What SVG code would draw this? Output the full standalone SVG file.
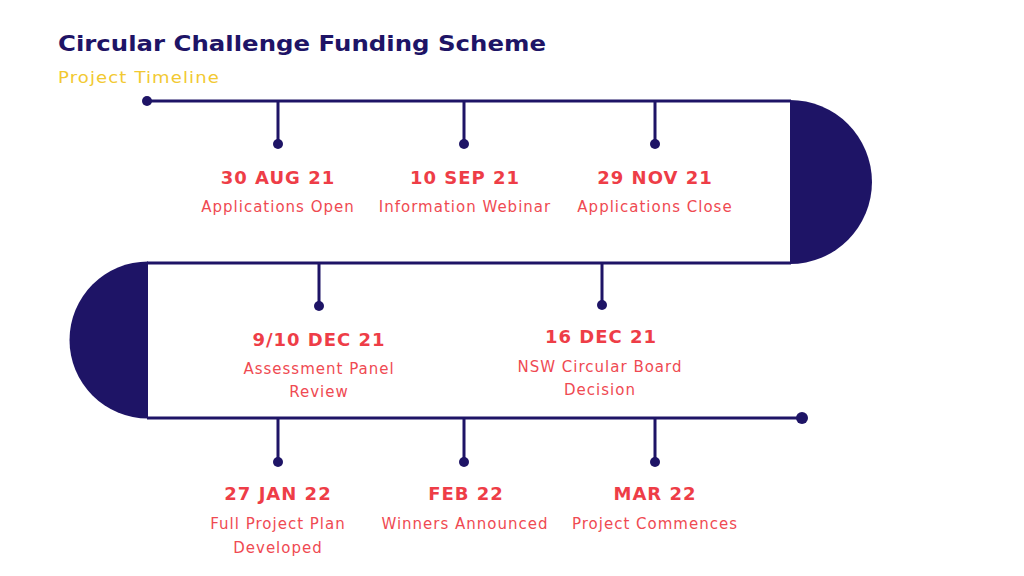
<svg xmlns="http://www.w3.org/2000/svg" width="1024" height="576" viewBox="0 0 1024 576">
<style>
.line{stroke:#1E1466;stroke-width:3;fill:none}
.dot{fill:#1E1466}
.cap{fill:#1E1466}
.date{font-family:"DejaVu Sans","Liberation Sans",sans-serif;font-weight:700;font-size:18px;fill:#EE3D47;text-anchor:middle;letter-spacing:1px}
.lab{font-family:"DejaVu Sans","Liberation Sans",sans-serif;font-weight:400;font-size:15px;fill:#EF4A52;text-anchor:middle;letter-spacing:1px}
.title{font-family:"DejaVu Sans","Liberation Sans",sans-serif;font-weight:700;font-size:22px;fill:#1E1466}
.sub{font-family:"DejaVu Sans","Liberation Sans",sans-serif;font-weight:400;font-size:16px;fill:#F2C931;letter-spacing:1px}
</style>
<rect width="1024" height="576" fill="#fff"/>
<g id="header">
<text class="title" x="58" y="51" textLength="488" lengthAdjust="spacingAndGlyphs">Circular Challenge Funding Scheme</text>
<text class="sub" x="58" y="83" textLength="162" lengthAdjust="spacingAndGlyphs">Project Timeline</text>
</g>
<g id="connectors">
<path class="line" d="M147 101 H791 M147 263 H791 M147 418 H802"/>
<path class="cap" d="M790 100 A82 82 0 0 1 790 264 Z"/>
<path class="cap" d="M148 261.5 A78.5 78.5 0 0 0 148 418.5 Z"/>
<circle class="dot" cx="147" cy="101" r="5"/>
<circle class="dot" cx="802" cy="418" r="6"/>
<path class="line" d="M278 101 V143 M464 101 V143 M655 101 V143 M319 263 V305 M602 263 V305 M278 418 V462 M464 418 V462 M655 418 V462"/>
</g>
<g id="n1"><circle class="dot" cx="278" cy="144" r="5"/><text class="date" x="278" y="184">30 AUG 21</text><text class="lab" x="278" y="212">Applications Open</text></g>
<g id="n2"><circle class="dot" cx="464" cy="144" r="5"/><text class="date" x="465" y="184">10 SEP 21</text><text class="lab" x="465" y="212">Information Webinar</text></g>
<g id="n3"><circle class="dot" cx="655" cy="144" r="5"/><text class="date" x="655" y="184">29 NOV 21</text><text class="lab" x="655" y="212">Applications Close</text></g>
<g id="n4"><circle class="dot" cx="319" cy="306" r="5"/><text class="date" x="319" y="346">9/10 DEC 21</text><text class="lab" x="319" y="374">Assessment Panel</text><text class="lab" x="319" y="397">Review</text></g>
<g id="n5"><circle class="dot" cx="602" cy="305" r="5"/><text class="date" x="601" y="343">16 DEC 21</text><text class="lab" x="600" y="372">NSW Circular Board</text><text class="lab" x="600" y="395">Decision</text></g>
<g id="n6"><circle class="dot" cx="278" cy="462" r="5"/><text class="date" x="278" y="500">27 JAN 22</text><text class="lab" x="278" y="529">Full Project Plan</text><text class="lab" x="278" y="553">Developed</text></g>
<g id="n7"><circle class="dot" cx="464" cy="462" r="5"/><text class="date" x="466" y="500">FEB 22</text><text class="lab" x="465" y="529">Winners Announced</text></g>
<g id="n8"><circle class="dot" cx="655" cy="462" r="5"/><text class="date" x="655" y="500">MAR 22</text><text class="lab" x="655" y="529">Project Commences</text></g>
</svg>
